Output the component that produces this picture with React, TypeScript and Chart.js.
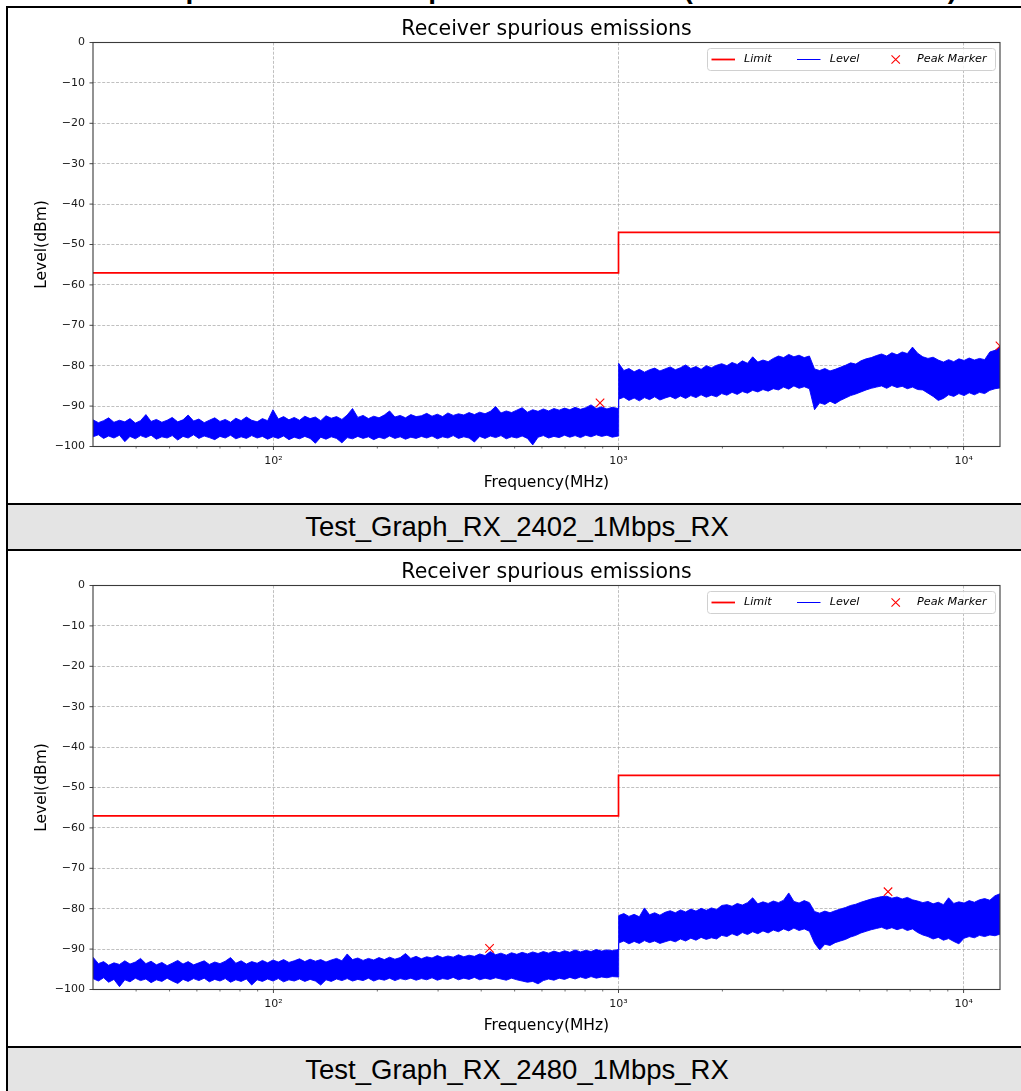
import React, { useEffect, useRef } from 'react';
import { Chart, registerables } from 'chart.js';

Chart.register(...registerables);

const pageTitle = 'Test Graphs for Receiver spurious emissions (Bluetooth LE Mode)';
const chartTitle = 'Receiver spurious emissions';
const xAxisTitle = 'Frequency(MHz)';
const yAxisTitle = 'Level(dBm)';
const legendLabels = ['Limit', 'Level', 'Peak Marker'];
const captions = ['Test_Graph_RX_2402_1Mbps_RX', 'Test_Graph_RX_2480_1Mbps_RX'];

// Frequency grid of the level trace (MHz)
const frequencies = [
  30.0, 31.1, 32.2, 33.3, 34.5, 35.8, 37.1, 38.4, 39.8, 41.2,
  42.7, 44.2, 45.8, 47.5, 49.2, 50.9, 52.8, 54.7, 56.6, 58.7,
  60.8, 63.0, 65.2, 67.6, 70.0, 72.5, 75.1, 77.8, 80.6, 83.5,
  86.5, 89.7, 92.9, 96.2, 99.7, 103.3, 107.0, 110.9, 114.9, 119.0,
  123.3, 127.7, 132.3, 137.1, 142.0, 147.1, 152.4, 157.9, 163.6, 169.5,
  175.6, 181.9, 188.5, 195.3, 202.3, 209.6, 217.1, 224.9, 233.0, 241.4,
  250.1, 259.1, 268.4, 278.1, 288.1, 298.5, 309.2, 320.3, 331.9, 343.8,
  356.2, 369.0, 382.3, 396.1, 410.4, 425.2, 440.5, 456.4, 472.8, 489.8,
  507.4, 525.7, 544.6, 564.2, 584.5, 605.5, 627.3, 649.9, 673.3, 697.5,
  722.6, 748.6, 775.6, 803.5, 832.4, 862.4, 893.4, 925.6, 958.9, 999,
  1001, 1036, 1072, 1110, 1149, 1189, 1230, 1273, 1318, 1364,
  1412, 1461, 1512, 1565, 1620, 1677, 1735, 1796, 1859, 1924,
  1991, 2061, 2133, 2208, 2285, 2365, 2448, 2533, 2622, 2714,
  2809, 2907, 3009, 3114, 3223, 3336, 3453, 3574, 3699, 3828,
  3962, 4101, 4244, 4393, 4547, 4706, 4871, 5041, 5218, 5400,
  5589, 5785, 5987, 6197, 6414, 6638, 6871, 7111, 7360, 7618,
  7885, 8161, 8446, 8742, 9048, 9364, 9692, 10031, 10382, 10746,
  11122, 11511, 11914, 12331, 12750,
];

const limitFrequencies = [30, 1000, 1000, 12750];
const limitLevels = [-57, -57, -47, -47];

// RX 2402 : upper / lower edge of the level trace (dBm)
const rx2402Upper = [
  -93.4, -94.1, -93.6, -92.9, -94.0, -93.5, -93.9, -93.1, -94.2, -93.6,
  -92.1, -93.8, -93.3, -94.0, -93.5, -92.8, -93.9, -93.4, -92.2, -93.7,
  -93.2, -94.1, -93.5, -92.9, -93.8, -93.3, -94.0, -93.0, -93.6, -92.7,
  -93.5, -93.9, -93.1, -93.6, -90.9, -93.2, -92.6, -93.4, -92.8, -93.5,
  -92.5, -93.1, -92.7, -93.6, -92.4, -93.0, -92.6, -93.3, -92.2, -90.6,
  -92.8, -92.3, -93.1, -92.5, -92.9, -92.2, -91.2, -92.7, -92.3, -92.9,
  -92.1, -92.6, -92.4, -91.8, -92.5, -92.0, -92.6, -91.7, -92.3, -91.9,
  -92.2, -91.6, -92.1, -91.5, -91.9, -91.3, -90.1, -91.7, -91.2, -91.6,
  -91.0, -90.4, -91.5, -90.9, -91.3, -90.7, -91.2, -90.6, -91.0, -90.5,
  -90.9, -90.3, -90.8, -90.4, -89.7, -90.6, -90.2, -90.7, -90.3, -90.6,
  -79.4, -81.2, -80.7, -81.5, -80.9, -81.6, -81.0, -80.6, -81.3, -80.8,
  -80.3, -81.0, -80.5, -79.8, -80.7, -80.2, -80.9, -80.0, -80.5, -79.9,
  -79.5, -80.0, -79.2, -79.7, -78.8, -79.4, -77.8, -79.1, -78.6, -79.0,
  -78.2, -77.6, -78.0, -77.2, -77.8, -77.4, -78.0, -77.6, -80.8, -81.2,
  -80.7, -81.3, -80.9, -80.4, -79.9, -79.3, -79.6, -78.8, -78.3, -78.0,
  -77.5, -77.1, -77.6, -76.8, -77.3, -76.6, -77.0, -75.4, -76.9, -77.8,
  -78.2, -77.9, -78.6, -79.1, -78.5, -79.0, -78.3, -78.7, -78.1, -78.6,
  -78.2, -78.5, -76.6, -76.2, -75.4,
];
const rx2402Lower = [
  -97.6, -97.1, -98.0, -97.4, -97.9, -97.2, -98.8, -97.5, -98.1, -97.3,
  -97.8, -97.2, -98.2, -97.6, -97.9, -97.3, -98.4, -97.5, -97.9, -97.1,
  -98.0, -97.4, -97.8, -98.3, -97.5, -97.9, -97.2, -98.1, -97.6, -98.0,
  -97.3, -97.9, -97.5, -98.2, -97.6, -98.0, -97.4, -98.3, -97.7, -98.1,
  -97.5, -98.0, -99.2, -97.7, -98.2, -97.6, -98.0, -99.1, -97.8, -98.1,
  -97.5, -98.0, -97.6, -98.3, -97.7, -98.1, -97.4, -98.0, -97.6, -98.2,
  -97.7, -98.0, -97.5, -97.9, -97.4, -98.1, -97.6, -97.9, -97.3, -98.0,
  -97.6, -97.9, -98.9, -97.5, -98.0, -97.4, -97.8, -97.3, -98.1, -97.6,
  -97.9, -97.4, -98.0, -99.6, -97.7, -97.3, -97.9, -97.5, -97.8, -97.2,
  -97.7, -97.3, -97.8, -97.2, -97.6, -97.1, -97.5, -97.2, -97.7, -97.4,
  -88.3, -87.8, -88.6, -88.0, -88.7, -87.9, -88.4, -87.7, -88.5, -88.0,
  -87.6, -88.2, -87.5, -88.1, -87.4, -87.9, -87.2, -87.8, -87.3, -87.7,
  -86.9, -87.3, -86.6, -87.1, -86.4, -86.8, -86.1, -86.5, -85.9, -86.3,
  -85.7, -86.0, -85.3, -85.8, -85.0, -85.6, -85.2, -85.7, -90.9, -89.2,
  -89.6, -88.8, -89.4, -88.6, -88.0, -87.4, -87.0, -86.5, -86.0, -85.6,
  -85.3, -85.0, -85.6, -84.9, -85.4, -85.1, -85.7, -85.3, -85.9, -86.0,
  -86.8, -87.6, -88.6, -88.1, -87.2, -87.6, -86.9, -87.4, -86.7, -87.2,
  -86.6, -86.9, -86.1, -85.7, -85.5,
];
const rx2402PeakFrequencies = [884, 12750];
const rx2402PeakLevels = [-89.2, -75.1];

// RX 2480 : upper / lower edge of the level trace (dBm)
const rx2480Upper = [
  -92.0, -93.6, -93.1, -94.0, -93.4, -93.8, -92.9, -93.7, -93.2, -92.3,
  -93.6, -93.0, -93.9, -93.3, -94.1, -93.5, -92.8, -93.7, -93.1, -93.9,
  -93.4, -92.9, -93.8, -93.2, -93.6, -93.0, -92.1, -93.5, -92.9, -93.7,
  -93.1, -93.5, -92.8, -93.4, -92.7, -93.2, -92.6, -93.3, -92.9, -92.4,
  -93.1, -92.5, -93.0, -92.6, -93.2, -92.7, -92.3, -92.9, -91.2, -92.6,
  -92.2, -92.8, -92.3, -92.7, -92.1, -92.6, -92.0, -92.5, -92.1, -91.1,
  -92.3, -91.8, -92.4, -91.9, -92.2, -91.6, -92.1, -91.7, -92.0, -91.4,
  -91.9, -91.5, -91.8, -91.2, -91.6, -90.6, -91.4, -91.0, -91.5, -90.9,
  -91.3, -90.8, -91.2, -90.7, -91.1, -90.6, -91.0, -90.5, -90.9, -90.4,
  -90.8, -90.2, -90.7, -90.3, -90.6, -90.1, -90.5, -90.2, -90.4, -90.1,
  -81.7, -81.2, -81.9, -81.4, -82.0, -79.8, -81.5, -81.0, -81.6, -80.9,
  -80.5, -81.0, -80.3, -80.8, -80.1, -80.6, -79.9, -80.4, -79.8, -80.2,
  -79.2, -79.0, -79.4, -78.7, -79.1, -78.5, -77.3, -78.8, -78.3, -78.7,
  -78.1, -78.5, -77.9, -76.1, -78.2, -78.6, -78.0, -78.5, -80.7, -81.1,
  -80.6, -81.0, -80.5, -80.1, -79.7, -79.2, -78.9, -78.4, -78.0, -77.6,
  -77.3, -77.0, -76.9, -77.4, -77.1, -77.6, -77.2, -77.8, -78.1, -78.5,
  -78.2, -78.8, -78.4, -79.0, -77.3, -78.7, -78.3, -78.6, -78.0, -78.4,
  -77.8, -77.5, -77.9, -76.8, -76.3,
];
const rx2480Lower = [
  -97.3, -97.9, -97.1, -98.2, -97.5, -99.3, -97.6, -98.1, -97.2, -97.8,
  -97.4, -98.3, -97.6, -98.0, -97.2, -97.9, -98.5, -97.5, -98.0, -97.3,
  -97.8, -97.2, -98.1, -97.5, -97.9, -97.3, -98.2, -97.6, -98.0, -97.4,
  -98.9, -97.6, -98.0, -97.4, -97.9, -97.3, -98.1, -97.6, -97.9, -97.4,
  -98.0, -97.5, -97.9, -98.9, -97.6, -98.0, -97.4, -97.8, -97.3, -97.9,
  -97.5, -97.8, -97.2, -97.9, -97.4, -97.7, -97.2, -97.8, -97.3, -97.6,
  -97.2, -97.7, -97.3, -97.6, -97.1, -97.7, -97.3, -97.5, -97.0, -97.6,
  -97.2, -97.5, -97.0, -97.6, -97.2, -97.5, -97.1, -97.4, -97.7, -97.2,
  -97.6, -97.9, -98.2, -98.0, -98.6, -97.8, -97.4, -97.7, -97.2, -97.5,
  -97.0, -97.4, -96.9, -97.3, -96.8, -97.2, -96.9, -97.1, -96.8, -96.9,
  -88.5, -88.0, -88.7, -88.1, -88.6, -87.9, -88.4, -88.0, -88.6, -88.2,
  -87.8, -88.2, -87.5, -88.0, -87.3, -87.8, -87.1, -87.6, -87.2, -87.5,
  -86.6, -86.9, -86.2, -86.7, -85.9, -86.4, -85.7, -86.2, -85.5, -86.0,
  -85.3, -85.7, -85.0, -85.5, -84.8, -85.4, -85.0, -85.6, -88.5, -90.2,
  -88.8, -89.1, -88.4, -88.0, -87.6, -87.0, -86.6, -86.0, -85.6, -85.2,
  -84.9, -84.6, -85.1, -84.7, -85.2, -84.8, -85.4, -85.0, -85.9, -86.5,
  -86.9, -87.5, -87.1, -87.8, -87.4, -88.1, -88.7, -87.3, -86.9, -87.2,
  -86.6, -86.9, -86.5, -86.7, -86.3,
];
const rx2480PeakFrequencies = [423, 6040];
const rx2480PeakLevels = [-89.8, -75.8];

const xMajorTicks = [100, 1000, 10000];
const xMajorLabels = ['10\u00b2', '10\u00b3', '10\u2074'];
const xMinorTicks = [40, 50, 60, 70, 80, 90, 200, 300, 400, 500, 600, 700, 800, 900, 2000, 3000, 4000, 5000, 6000, 7000, 8000, 9000];
const yTicks = [0, -10, -20, -30, -40, -50, -60, -70, -80, -90, -100];

const MPL_FONT = '"DejaVu Sans", sans-serif';
const CANVAS_W = 1018;
const CANVAS_H = 495;

const decorPlugin = {
  id: 'mplDecor',
  afterDraw(chart: any) {
    const { ctx, chartArea: a, scales } = chart;
    const xs = scales.x;
    const ys = scales.y;
    ctx.save();

    // frame
    ctx.strokeStyle = '#3a3a3a';
    ctx.lineWidth = 1.1;
    ctx.strokeRect(a.left, a.top, a.right - a.left, a.bottom - a.top);

    // tick marks
    ctx.strokeStyle = '#333';
    ctx.lineWidth = 0.9;
    ctx.beginPath();
    for (const v of yTicks) {
      const y = ys.getPixelForValue(v);
      ctx.moveTo(a.left - 3.5, y);
      ctx.lineTo(a.left, y);
    }
    for (const v of xMajorTicks) {
      const x = xs.getPixelForValue(v);
      ctx.moveTo(x, a.bottom);
      ctx.lineTo(x, a.bottom + 3.5);
    }
    ctx.stroke();
    ctx.lineWidth = 0.7;
    ctx.beginPath();
    for (const v of xMinorTicks) {
      const x = xs.getPixelForValue(v);
      ctx.moveTo(x, a.bottom);
      ctx.lineTo(x, a.bottom + 2);
    }
    ctx.stroke();

    // title
    ctx.fillStyle = '#000';
    ctx.font = `20.5px ${MPL_FONT}`;
    ctx.textAlign = 'center';
    ctx.textBaseline = 'alphabetic';
    ctx.fillText(chartTitle, (a.left + a.right) / 2, 26.5);

    // axis titles
    ctx.font = `15.5px ${MPL_FONT}`;
    ctx.textBaseline = 'middle';
    ctx.fillText(xAxisTitle, (a.left + a.right) / 2, 474.5);
    ctx.save();
    ctx.translate(33.5, (a.top + a.bottom) / 2);
    ctx.rotate(-Math.PI / 2);
    ctx.fillText(yAxisTitle, 0, 0);
    ctx.restore();

    // legend
    const bw = 288;
    const bh = 22;
    const bx = Math.round(a.right - 5 - bw);
    const by = Math.round(a.top + 5);
    ctx.beginPath();
    if (ctx.roundRect) ctx.roundRect(bx + 0.5, by + 0.5, bw, bh, 3);
    else ctx.rect(bx + 0.5, by + 0.5, bw, bh);
    ctx.fillStyle = 'rgba(255,255,255,0.8)';
    ctx.fill();
    ctx.strokeStyle = '#d0d0d0';
    ctx.lineWidth = 1;
    ctx.stroke();
    const cy = by + bh / 2 + 0.5;
    ctx.strokeStyle = '#ff0000';
    ctx.lineWidth = 1.8;
    ctx.beginPath();
    ctx.moveTo(bx + 4.5, cy);
    ctx.lineTo(bx + 28, cy);
    ctx.stroke();
    ctx.strokeStyle = '#0000ff';
    ctx.lineWidth = 1;
    ctx.beginPath();
    ctx.moveTo(bx + 90, cy);
    ctx.lineTo(bx + 113.5, cy);
    ctx.stroke();
    ctx.strokeStyle = '#ff0000';
    ctx.lineWidth = 1.1;
    const mx = bx + 188.7;
    const d = 4.2;
    ctx.beginPath();
    ctx.moveTo(mx - d, cy - d);
    ctx.lineTo(mx + d, cy + d);
    ctx.moveTo(mx - d, cy + d);
    ctx.lineTo(mx + d, cy - d);
    ctx.stroke();
    ctx.fillStyle = '#000';
    ctx.font = `italic 11.2px ${MPL_FONT}`;
    ctx.textAlign = 'left';
    ctx.textBaseline = 'middle';
    ctx.fillText(legendLabels[0], bx + 37, cy);
    ctx.fillText(legendLabels[1], bx + 122.7, cy);
    ctx.fillText(legendLabels[2], bx + 210, cy);

    ctx.restore();
  },
};

function buildConfig(upper: number[], lower: number[], peakF: number[], peakL: number[]): any {
  const toPoints = (xs: number[], ys: number[]) => xs.map((x, i) => ({ x, y: ys[i] }));
  const gridTickColor = (ctx: any) =>
    ctx.tick && xMajorTicks.includes(ctx.tick.value) ? '#b0b0b0' : 'rgba(0,0,0,0)';
  return {
    type: 'line',
    data: {
      datasets: [
        {
          label: legendLabels[2],
          data: toPoints(peakF, peakL),
          showLine: false,
          pointStyle: 'crossRot',
          pointRadius: 6,
          pointHoverRadius: 6,
          pointBorderColor: '#ff0000',
          pointBackgroundColor: 'rgba(0,0,0,0)',
          pointBorderWidth: 1.1,
          order: 0,
          clip: 0,
        },
        {
          label: legendLabels[0],
          data: toPoints(limitFrequencies, limitLevels),
          borderColor: '#ff0000',
          borderWidth: 1.7,
          pointRadius: 0,
          fill: false,
          order: 1,
          clip: 0,
        },
        {
          label: legendLabels[1],
          data: toPoints(frequencies, upper),
          borderColor: '#0000ff',
          backgroundColor: '#0000ff',
          borderWidth: 0.9,
          pointRadius: 0,
          fill: '+1',
          order: 2,
          clip: 0,
        },
        {
          label: 'level-lower',
          data: toPoints(frequencies, lower),
          borderColor: '#0000ff',
          backgroundColor: '#0000ff',
          borderWidth: 0.9,
          pointRadius: 0,
          fill: false,
          order: 3,
          clip: 0,
        },
      ],
    },
    options: {
      responsive: false,
      animation: false,
      events: [],
      layout: { padding: { top: 34.5, right: 26, bottom: 0, left: 0 } },
      elements: { line: { tension: 0 } },
      plugins: {
        legend: { display: false },
        tooltip: { enabled: false },
        title: { display: false },
      },
      scales: {
        x: {
          type: 'logarithmic',
          min: 30,
          max: 12750,
          afterBuildTicks: (s: any) => {
            s.ticks = [...xMajorTicks, ...xMinorTicks].sort((p, q) => p - q).map((v) => ({ value: v }));
          },
          afterFit: (s: any) => {
            s.height = 56.5;
          },
          ticks: {
            autoSkip: false,
            maxRotation: 0,
            minRotation: 0,
            padding: 8,
            color: '#1a1a1a',
            font: { family: MPL_FONT, size: 11 },
            callback: (v: any) => {
              const i = xMajorTicks.indexOf(Number(v));
              return i >= 0 ? xMajorLabels[i] : '';
            },
          },
          grid: { color: gridTickColor, lineWidth: 0.8, drawTicks: false },
          border: { display: false, dash: [3, 1.6] },
        },
        y: {
          type: 'linear',
          min: -100,
          max: 0,
          afterBuildTicks: (s: any) => {
            s.ticks = yTicks.map((v) => ({ value: v }));
          },
          afterFit: (s: any) => {
            s.width = 85;
          },
          ticks: {
            padding: 8,
            color: '#1a1a1a',
            font: { family: MPL_FONT, size: 11 },
            callback: (v: any) => String(v).replace('-', '\u2212'),
          },
          grid: { color: '#b0b0b0', lineWidth: 0.8, drawTicks: false },
          border: { display: false, dash: [3, 1.6] },
        },
      },
    },
    plugins: [decorPlugin],
  };
}

function SpectrumChart(props: { upper: number[]; lower: number[]; peakF: number[]; peakL: number[] }) {
  const ref = useRef<HTMLCanvasElement>(null);
  useEffect(() => {
    const chart = new Chart(ref.current as HTMLCanvasElement, buildConfig(props.upper, props.lower, props.peakF, props.peakL));
    return () => chart.destroy();
  }, []);
  return <canvas ref={ref} width={CANVAS_W} height={CANVAS_H} style={{ display: 'block', width: CANVAS_W, height: CANVAS_H }} />;
}

const blocks = [
  { caption: captions[0], upper: rx2402Upper, lower: rx2402Lower, peakF: rx2402PeakFrequencies, peakL: rx2402PeakLevels },
  { caption: captions[1], upper: rx2480Upper, lower: rx2480Lower, peakF: rx2480PeakFrequencies, peakL: rx2480PeakLevels },
];

export default function App() {
  return (
    <div style={{ position: 'absolute', left: 0, top: 0, width: 1021, height: 1091, overflow: 'hidden', background: '#fff' }}>
      <div
        style={{
          position: 'absolute',
          left: 74,
          top: -24.7,
          fontFamily: '"Liberation Sans", Arial, sans-serif',
          fontWeight: 'bold',
          fontSize: 28,
          lineHeight: '28px',
          whiteSpace: 'nowrap',
          color: '#000',
        }}
      >
        {pageTitle}
      </div>
      <div
        style={{
          position: 'absolute',
          left: 6,
          top: 6,
          width: CANVAS_W,
          borderLeft: '2px solid #000',
          borderRight: '2px solid #000',
          borderTop: '2px solid #000',
        }}
      >
        {blocks.map((b, i) => (
          <div key={i}>
            <div style={{ height: CANVAS_H, background: '#fff' }}>
              <SpectrumChart upper={b.upper} lower={b.lower} peakF={b.peakF} peakL={b.peakL} />
            </div>
            <div
              style={{
                height: 44,
                borderTop: '2px solid #000',
                borderBottom: '2px solid #000',
                background: '#e4e4e4',
                textAlign: 'center',
                fontFamily: '"Liberation Sans", Arial, sans-serif',
                fontSize: 27.5,
                lineHeight: '44px',
                color: '#000',
                whiteSpace: 'nowrap',
              }}
            >
              {b.caption}
            </div>
          </div>
        ))}
      </div>
    </div>
  );
}
